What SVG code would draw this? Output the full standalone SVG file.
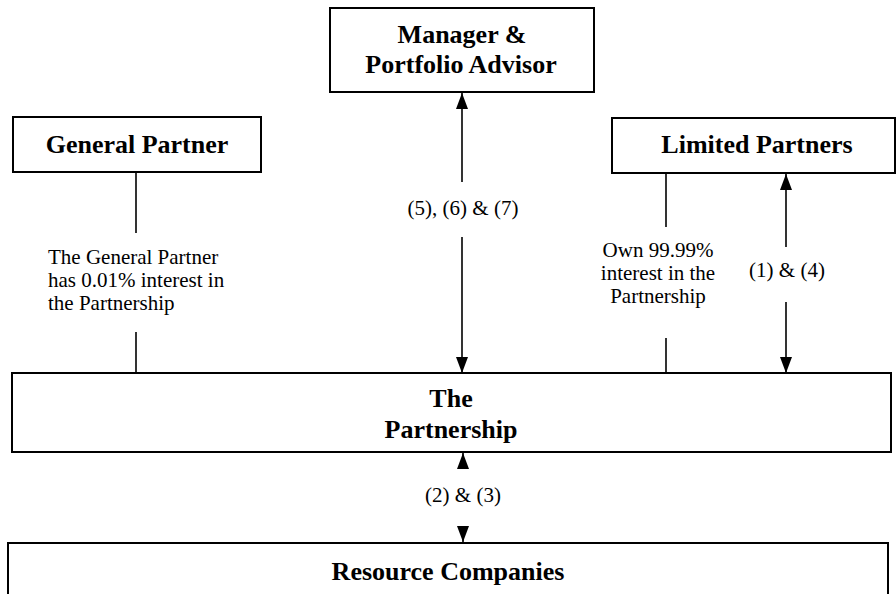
<svg xmlns="http://www.w3.org/2000/svg" width="896" height="594" viewBox="0 0 896 594">
  <style>
    .box { fill: #ffffff; stroke: #000000; stroke-width: 2; }
    .title { font-family: "Liberation Serif", "Times New Roman", serif; font-weight: bold; font-size: 26px; fill: #000000; text-anchor: middle; }
    .label { font-family: "Liberation Serif", "Times New Roman", serif; font-size: 21px; fill: #000000; }
    .mid { text-anchor: middle; }
    .line { stroke: #000000; stroke-width: 1.6; fill: none; }
    .arrow { stroke: #000000; stroke-width: 1.6; fill: none; marker-end: url(#head); }
  </style>
  <defs>
    <marker id="head" markerUnits="userSpaceOnUse" markerWidth="16" markerHeight="12" refX="16" refY="6" orient="auto">
      <path d="M0,0 L16,6 L0,12 Z" fill="#000000"/>
    </marker>
  </defs>
  <rect width="896" height="594" fill="#ffffff"/>

  <g id="connectors">
    <line class="line" x1="136" y1="172" x2="136" y2="233"/>
    <line class="line" x1="136" y1="332" x2="136" y2="373"/>
    <line class="arrow" x1="462" y1="182" x2="462" y2="93"/>
    <line class="arrow" x1="462" y1="237" x2="462" y2="373"/>
    <line class="line" x1="666" y1="173" x2="666" y2="227"/>
    <line class="line" x1="666" y1="338" x2="666" y2="373"/>
    <line class="arrow" x1="786" y1="247" x2="786" y2="174"/>
    <line class="arrow" x1="786" y1="302" x2="786" y2="373"/>
    <line class="arrow" x1="463" y1="469" x2="463" y2="453"/>
    <line class="arrow" x1="463" y1="526" x2="463" y2="542"/>
    <text class="label" x="48" y="264">The General Partner</text>
    <text class="label" x="48" y="287">has 0.01% interest in</text>
    <text class="label" x="48" y="310">the Partnership</text>
    <text class="label mid" x="463" y="215">(5), (6) &amp; (7)</text>
    <text class="label mid" x="658" y="257">Own 99.99%</text>
    <text class="label mid" x="658" y="280">interest in the</text>
    <text class="label mid" x="658" y="303">Partnership</text>
    <text class="label mid" x="787" y="277">(1) &amp; (4)</text>
    <text class="label mid" x="463" y="502">(2) &amp; (3)</text>
  </g>

  <g id="manager">
    <rect class="box" x="330" y="8" width="264" height="84"/>
    <text class="title" x="462" y="43">Manager &amp;</text>
    <text class="title" x="461" y="73">Portfolio Advisor</text>
  </g>

  <g id="general-partner">
    <rect class="box" x="13" y="117" width="248" height="55"/>
    <text class="title" x="137" y="153">General Partner</text>
  </g>

  <g id="limited-partners">
    <rect class="box" x="612" y="118" width="283" height="55"/>
    <text class="title" x="757" y="153">Limited Partners</text>
  </g>

  <g id="partnership">
    <rect class="box" x="12" y="373" width="879" height="79"/>
    <text class="title" x="451" y="407">The</text>
    <text class="title" x="451" y="438">Partnership</text>
  </g>

  <g id="resource-companies">
    <rect class="box" x="8" y="543" width="880" height="70"/>
    <text class="title" x="448" y="580">Resource Companies</text>
  </g>
</svg>
